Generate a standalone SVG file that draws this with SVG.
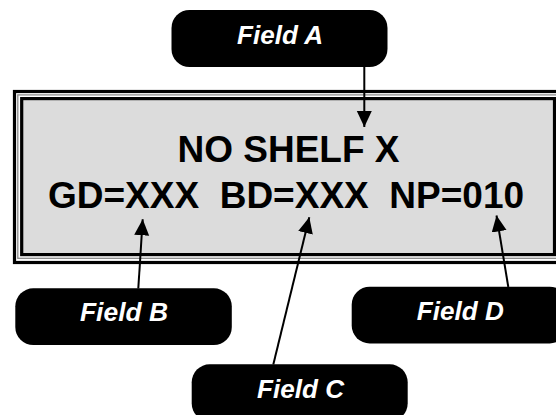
<svg xmlns="http://www.w3.org/2000/svg" width="556" height="415" viewBox="0 0 556 415">
  <style>
    .box { fill: #000; }
    .lbl { fill: #fff; font-family: "Liberation Sans", Arial, sans-serif; font-weight: bold; font-style: italic; font-size: 25px; text-anchor: middle; }
    .disp { fill: #000; font-family: "Liberation Sans", Arial, sans-serif; font-weight: bold; font-size: 37px; text-anchor: middle; }
    .conn { stroke: #000; stroke-width: 2; fill: none; marker-end: url(#arr); }
  </style>
  <defs>
    <marker id="arr" markerUnits="userSpaceOnUse" markerWidth="16" markerHeight="16" refX="16" refY="7.5" orient="auto">
      <path d="M0,0 L16,7.5 L0,15 Z" fill="#000"/>
    </marker>
  </defs>
  <rect width="556" height="415" fill="#fff"/>
  <g id="display">
    <rect x="14.5" y="91.5" width="560" height="171" fill="#fff" stroke="#000" stroke-width="3.2"/>
    <rect x="17.8" y="94.9" width="550" height="163.4" fill="none" stroke="#8a8a8a" stroke-width="1.3"/>
    <rect x="21.7" y="98.6" width="532.8" height="156" fill="#dcdcdc" stroke="#000" stroke-width="3.2"/>
    <text class="disp" x="288.5" y="162">NO SHELF X</text>
    <text class="disp" x="286" y="207.7" xml:space="preserve">GD=XXX  BD=XXX  NP=010</text>
  </g>
  <g id="connectors">
    <line class="conn" x1="364.3" y1="67" x2="364.3" y2="127"/>
    <line class="conn" x1="138.3" y1="288.5" x2="142.7" y2="219.3"/>
    <line class="conn" x1="273.3" y1="364.5" x2="309.3" y2="217.3"/>
    <line class="conn" x1="508.3" y1="287" x2="496.5" y2="215.5"/>
  </g>
  <g id="fieldA">
    <rect class="box" x="171.5" y="10" width="216" height="57" rx="18"/>
    <text class="lbl" x="280" y="44" textLength="86" lengthAdjust="spacingAndGlyphs">Field A</text>
  </g>
  <g id="fieldB">
    <rect class="box" x="15.3" y="288.3" width="216.5" height="56.7" rx="18"/>
    <text class="lbl" x="124" y="321.4" textLength="88" lengthAdjust="spacingAndGlyphs">Field B</text>
  </g>
  <g id="fieldC">
    <rect class="box" x="191.7" y="364.3" width="216" height="57" rx="18"/>
    <text class="lbl" x="300.5" y="398" textLength="87" lengthAdjust="spacingAndGlyphs">Field C</text>
  </g>
  <g id="fieldD">
    <rect class="box" x="351.7" y="286.7" width="216" height="56.7" rx="18"/>
    <text class="lbl" x="460.3" y="319.7" textLength="87" lengthAdjust="spacingAndGlyphs">Field D</text>
  </g>
</svg>
